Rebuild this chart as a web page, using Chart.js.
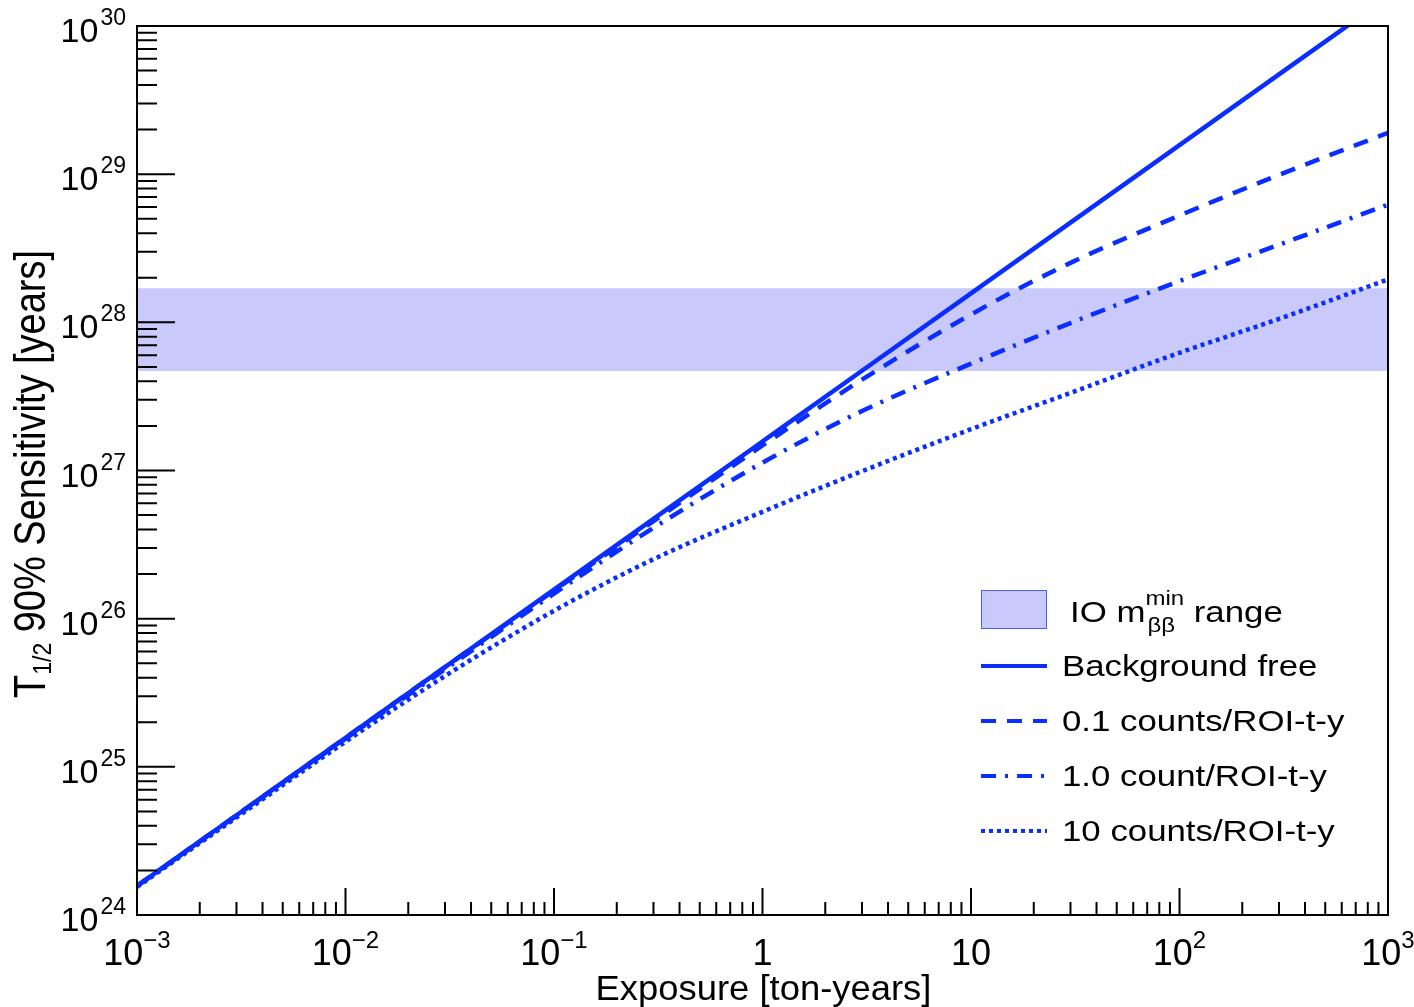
<!DOCTYPE html>
<html>
<head>
<meta charset="utf-8">
<script src="https://cdn.jsdelivr.net/npm/chart.js@4.4.1/dist/chart.umd.min.js"></script>
<style>
  html, body { margin: 0; padding: 0; background: #fff; overflow: hidden; }
  #wrap { width: 1414px; height: 1007px; position: relative; }
</style>
</head>
<body>
<div id="wrap"><canvas id="sens"></canvas></div>
<script>
// exposure in ton-years, half-life sensitivity in years
const exposure = [0.001, 0.003, 0.01, 0.03, 0.1, 0.3, 1, 3, 10, 30, 100, 300, 1000];
const bgFree  = [1.57e24, 4.71e24, 1.57e25, 4.71e25, 1.57e26, 4.71e26, 1.57e27, 4.71e27, 1.57e28, 4.71e28, 1.57e29, 4.71e29, 1.57e30];
const bg01    = [1.57e24, 4.71e24, 1.57e25, 4.71e25, 1.546e26, 4.55e26, 1.476e27, 4.10e27, 1.13e28, 2.52e28, 5.26e28, 9.89e28, 1.90e29];
const bg1     = [1.57e24, 4.69e24, 1.546e25, 4.55e25, 1.476e26, 4.10e26, 1.13e27, 2.52e27, 5.26e27, 9.89e27, 1.90e28, 3.34e28, 6.23e28];
const bg10    = [1.546e24, 4.55e24, 1.476e25, 4.10e25, 1.13e26, 2.52e26, 5.26e26, 9.89e26, 1.90e27, 3.34e27, 6.23e27, 1.055e28, 1.95e28];

// IO m_bb^min band
const bandX    = [0.001, 1000];
const bandLow  = [4.7e27, 4.7e27];
const bandHigh = [1.7e28, 1.7e28];

const seriesLabels = ['Background free', '0.1 counts/ROI-t-y', '1.0 count/ROI-t-y', '10 counts/ROI-t-y'];

const xTickValues = [0.001, 0.01, 0.1, 1, 10, 100, 1000];
const xTickLabels = ['10^−3', '10^−2', '10^−1', '1', '10', '10^2', '10^3'];
const yTickValues = [1e24, 1e25, 1e26, 1e27, 1e28, 1e29, 1e30];
const yTickLabels = ['10^24', '10^25', '10^26', '10^27', '10^28', '10^29', '10^30'];

const BLUE = '#0a2eff';
const BAND = '#c9c9fb';
const FONT = '"Liberation Sans", Arial, Helvetica, sans-serif';
const dashes = [[], [15, 11], [15, 9, 3, 9], [4, 4]];

const pts = (xs, ys) => xs.map((x, i) => ({ x: x, y: ys[i] }));

function curve(label, ys, dash, width) {
  return {
    label: label,
    data: pts(exposure, ys),
    borderColor: BLUE,
    borderWidth: width,
    borderDash: dash,
    pointRadius: 0,
    fill: false,
    cubicInterpolationMode: 'monotone',
    order: 1
  };
}

// text helper with horizontal stretch
function txt(ctx, s, x, y, size, sx) {
  ctx.save();
  ctx.font = size + 'px ' + FONT;
  const w = ctx.measureText(s).width * sx;
  ctx.translate(x, y);
  ctx.scale(sx, 1);
  ctx.fillText(s, 0, 0);
  ctx.restore();
  return w;
}
function width(ctx, s, size, sx) {
  ctx.save();
  ctx.font = size + 'px ' + FONT;
  const w = ctx.measureText(s).width * sx;
  ctx.restore();
  return w;
}

const decor = {
  id: 'decor',
  afterDatasetsDraw(chart) {
    const ctx = chart.ctx;
    const xs = chart.scales.x, ys = chart.scales.y;
    const a = chart.chartArea;
    ctx.save();
    ctx.strokeStyle = '#000';
    ctx.fillStyle = '#000';
    ctx.lineWidth = 2;
    ctx.setLineDash([]);

    // frame
    ctx.strokeRect(a.left, a.top, a.right - a.left, a.bottom - a.top);

    // x ticks (inward)
    ctx.beginPath();
    for (let n = -3; n <= 3; n++) {
      const px = xs.getPixelForValue(Math.pow(10, n));
      ctx.moveTo(px, a.bottom); ctx.lineTo(px, a.bottom - 27);
      if (n < 3) {
        for (let k = 2; k <= 9; k++) {
          const mx = xs.getPixelForValue(k * Math.pow(10, n));
          ctx.moveTo(mx, a.bottom); ctx.lineTo(mx, a.bottom - 13);
        }
      }
    }
    // y ticks (inward)
    for (let n = 24; n <= 30; n++) {
      const py = ys.getPixelForValue(Math.pow(10, n));
      ctx.moveTo(a.left, py); ctx.lineTo(a.left + 38, py);
      if (n < 30) {
        for (let k = 2; k <= 9; k++) {
          const my = ys.getPixelForValue(k * Math.pow(10, n));
          ctx.moveTo(a.left, my); ctx.lineTo(a.left + 20, my);
        }
      }
    }
    ctx.stroke();

    // x tick labels
    ctx.textBaseline = 'alphabetic';
    ctx.textAlign = 'left';
    xTickValues.forEach((v, i) => {
      const px = xs.getPixelForValue(v);
      const parts = xTickLabels[i].split('^');
      const wb = width(ctx, parts[0], 36, 1);
      const we = parts[1] ? width(ctx, parts[1], 24, 1) : 0;
      const x0 = px - (wb + we) / 2;
      txt(ctx, parts[0], x0, a.bottom + 50, 36, 1);
      if (parts[1]) txt(ctx, parts[1], x0 + wb, a.bottom + 33, 24, 1);
    });

    // y tick labels
    yTickValues.forEach((v, i) => {
      const py = ys.getPixelForValue(v);
      const parts = yTickLabels[i].split('^');
      const we = width(ctx, parts[1], 23, 1);
      const wb = width(ctx, parts[0], 34, 1);
      const xr = a.left - 11;
      txt(ctx, parts[1], xr - we, py - 1, 23, 1);
      txt(ctx, parts[0], xr - we - 2 - wb, py + 16, 34, 1);
    });

    // x title
    const xt = 'Exposure [ton-years]';
    const xtw = width(ctx, xt, 35, 1.04);
    txt(ctx, xt, (a.left + a.right) / 2 - xtw / 2 + 1, 1000, 35, 1.04);

    // y title (rotated)
    ctx.save();
    ctx.translate(45, 474);
    ctx.rotate(-Math.PI / 2);
    ctx.scale(1, 1.15);
    const t1 = 'T', t2 = '1/2', t3 = ' 90% Sensitivity [years]';
    const w1 = width(ctx, t1, 38, 1), w2 = width(ctx, t2, 23, 1), w3 = width(ctx, t3, 38, 1);
    let x = -(w1 + w2 + w3) / 2;
    x += txt(ctx, t1, x, 0, 38, 1);
    x += txt(ctx, t2, x, 5, 23, 1);
    txt(ctx, t3, x, 0, 38, 1);
    ctx.restore();

    // legend
    const lx0 = 981, lx1 = 1047, tx = 1062, sx = 1.2;
    ctx.fillStyle = BAND;
    ctx.fillRect(lx0, 590, lx1 - lx0, 39);
    ctx.strokeStyle = '#4a5cff';
    ctx.lineWidth = 1;
    ctx.strokeRect(lx0 + 0.5, 590.5, lx1 - lx0 - 1, 38);
    ctx.fillStyle = '#000';
    let cx = 1070;
    cx += txt(ctx, 'IO m', cx, 622, 29, sx);
    const wsup = txt(ctx, 'min', cx, 605, 20, sx);
    const wsub = txt(ctx, 'ββ', cx + 2, 632, 20, sx);
    cx += Math.max(wsup, wsub + 2);
    txt(ctx, ' range', cx, 622, 29, sx);

    seriesLabels.forEach((lab, i) => {
      const base = 676 + i * 55;
      ctx.strokeStyle = BLUE;
      ctx.lineWidth = 4;
      ctx.setLineDash(dashes[i]);
      ctx.beginPath();
      ctx.moveTo(lx0, base - 10);
      ctx.lineTo(lx1, base - 10);
      ctx.stroke();
      ctx.setLineDash([]);
      ctx.fillStyle = '#000';
      txt(ctx, lab, tx, base, 29, sx);
    });

    ctx.restore();
  }
};

new Chart(document.getElementById('sens'), {
  type: 'line',
  data: {
    datasets: [
      { label: 'band low', data: pts(bandX, bandLow), borderWidth: 0, pointRadius: 0, fill: false, order: 5 },
      { label: 'IO range', data: pts(bandX, bandHigh), borderWidth: 0, pointRadius: 0, fill: '-1', backgroundColor: BAND, order: 5 },
      curve(seriesLabels[0], bgFree, dashes[0], 4.5),
      curve(seriesLabels[1], bg01, dashes[1], 4.5),
      curve(seriesLabels[2], bg1, dashes[2], 4.5),
      curve(seriesLabels[3], bg10, dashes[3], 4.5)
    ]
  },
  options: {
    responsive: true,
    maintainAspectRatio: false,
    animation: false,
    layout: { padding: { left: 137, top: 26, right: 26, bottom: 92 } },
    plugins: { legend: { display: false }, tooltip: { enabled: false } },
    scales: {
      x: { type: 'logarithmic', min: 0.001, max: 1000, display: false },
      y: { type: 'logarithmic', min: 1e24, max: 1e30, display: false }
    }
  },
  plugins: [decor]
});
</script>
</body>
</html>
